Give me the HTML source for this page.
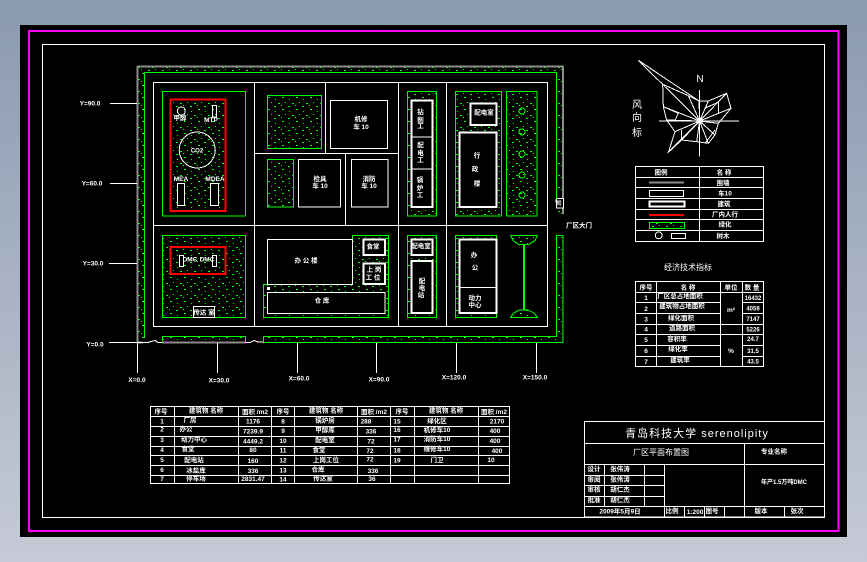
<!DOCTYPE html>
<html><head><meta charset="utf-8"><style>
html,body{margin:0;padding:0;width:867px;height:562px;overflow:hidden;background:linear-gradient(#8a9ab0,#c6cad6)}
svg{display:block;position:absolute;left:0;top:0}
rect,path,circle{shape-rendering:crispEdges}
text{fill:#fff;font-family:"Liberation Sans","Noto Sans CJK SC",sans-serif;font-size:6.5px;font-weight:bold;text-anchor:middle}
.w{fill:none;stroke:#fff;stroke-width:1}
.w2{fill:none;stroke:#fff;stroke-width:1.6}
.g{fill:url(#h);stroke:#0f0;stroke-width:1}
.gn{fill:none;stroke:#0f0;stroke-width:1}
.k{fill:#000;stroke:#fff;stroke-width:1}
.k2{fill:#000;stroke:#fff;stroke-width:1.6}
</style></head><body>
<svg width="867" height="562" viewBox="0 0 867 562" xmlns="http://www.w3.org/2000/svg">
<defs>
<pattern id="h" width="14" height="12" patternUnits="userSpaceOnUse">
<rect x="2" y="1" width="2" height="1" fill="#0f0"/><rect x="9" y="3" width="1" height="1" fill="#0f0"/>
<rect x="5" y="6" width="1" height="1" fill="#0f0"/><rect x="12" y="7" width="2" height="1" fill="#0f0"/>
<rect x="1" y="9" width="1" height="1" fill="#0f0"/><rect x="8" y="10" width="2" height="1" fill="#0f0"/>
</pattern>
</defs>
<rect x="20" y="25" width="827" height="512" fill="#000"/>
<rect x="29" y="30.75" width="809.5" height="500" fill="none" stroke="#f0f" stroke-width="2"/>
<rect x="42.5" y="44.5" width="782" height="473" class="w"/>

<!-- site boundary -->
<path d="M138 67H563V214H556.5V72.5H144.5V342.5H138Z" fill="url(#h)"/>
<path d="M137.5 342.5V66.5H562.8V214" fill="none" stroke="#8c8c8c" stroke-width="2"/>
<path d="M144.5 338V72.5H556.5V198" class="gn"/>
<rect x="162.5" y="336.5" width="83" height="6" class="g"/>
<path d="M162 342.5H245" stroke="#8c8c8c" stroke-width="2"/>
<path d="M263.5 342.5V336.5H556.5V235.5H563V342.5Z" class="g"/>
<path d="M138 342.5H143" stroke="#8c8c8c" stroke-width="2"/>
<path d="M110 342.5H148L151 341.5 155 340.5 158 342.5H162M245 342.5H250L254 340.5 258 342H263" class="w"/>
<rect x="556.5" y="198.5" width="7" height="9.5" class="k"/>
<path d="M556 199V202H559V205" class="w"/>
<rect x="153.5" y="82.5" width="394" height="244" class="w"/>
<path d="M254.5 82V326M398.5 82V326M446.5 82V326M153 225.5H547M254 153.5H398M325.5 82V153M345.5 153V225" class="w"/>

<!-- block A -->
<rect x="162.5" y="91.5" width="83" height="124.5" class="gn"/>
<rect x="170.5" y="99.5" width="55" height="111.5" fill="url(#h)" stroke="#f00" stroke-width="2"/>
<circle cx="181.3" cy="111" r="4" class="w"/>
<rect x="212.5" y="105.5" width="4" height="11.5" class="w"/>
<circle cx="197.2" cy="150" r="18" class="w"/>
<rect x="177.5" y="183.5" width="7" height="22" class="k"/>
<rect x="210.5" y="183.5" width="8" height="22" class="k"/>
<text x="180" y="120">甲醇</text><text x="211" y="122">MTP</text>
<text x="197" y="152.5" style="font-size:6px">CO2</text>
<text x="181" y="181">MEA</text><text x="215" y="181">MDEA</text>

<!-- top middle -->
<rect x="267.5" y="95.5" width="54" height="53" class="g"/>
<rect x="330.5" y="100.5" width="57" height="48" class="w"/>
<text x="361" y="121">机修</text><text x="361" y="129">车 10</text>
<rect x="267.5" y="159.5" width="26" height="47.5" class="g"/>
<rect x="298.5" y="159.5" width="42" height="47.5" class="w"/>
<text x="320" y="181">检具</text><text x="320" y="188">车 10</text>
<rect x="351.5" y="159.5" width="36.5" height="47.5" class="w"/>
<text x="369" y="181">消防</text><text x="369" y="188">车 10</text>

<!-- column 3 -->
<rect x="407.5" y="91.5" width="29" height="124.5" class="g"/>
<rect x="411.5" y="100.5" width="21" height="106.5" class="k2"/>
<path d="M411.5 137H432.5M411.5 169H432.5" class="w"/>
<text x="420.5" y="114">钻</text><text x="420.5" y="122">削</text><text x="420.5" y="128">工</text>
<text x="420.5" y="147">配</text><text x="420.5" y="155">电</text><text x="420.5" y="162">工</text>
<text x="420" y="182">锅</text><text x="420" y="190">炉</text><text x="420" y="197">工</text>

<!-- column 4 -->
<rect x="455.5" y="91.5" width="46" height="124.5" class="g"/>
<rect x="470.5" y="103.5" width="26" height="21.5" class="k2" stroke-width="2"/>
<text x="484" y="114.5">配电室</text>
<rect x="459.5" y="132.5" width="37" height="74.5" class="k2"/>
<text x="477" y="157.5">行</text><text x="475" y="171">政</text><text x="477" y="185.5">楼</text>

<!-- trees -->
<rect x="506.5" y="91.5" width="30.5" height="124.5" class="g"/>
<g class="gn"><circle cx="522" cy="111" r="3"/><circle cx="522" cy="132" r="3"/><circle cx="522" cy="154" r="3"/><circle cx="522" cy="175" r="3"/><circle cx="522" cy="195" r="3"/></g>

<!-- lower left -->
<rect x="162.5" y="235.5" width="83" height="82" class="g"/>
<rect x="170.5" y="247" width="55" height="27" fill="none" stroke="#f00" stroke-width="2"/>
<rect x="179.5" y="255.5" width="4" height="11" class="k"/>
<rect x="212.5" y="255.5" width="4" height="11" class="k"/>
<text x="190" y="261.5">DMC</text><text x="207" y="261.5">DMC</text>
<rect x="193.5" y="306.5" width="21" height="11" class="k"/>
<text x="204" y="314.5">传达 室</text>

<!-- lower middle -->
<path d="M352.5 235.5H388.5V317.5H263.5V284.5H352.5Z" class="g"/>
<rect x="267.5" y="239.5" width="85" height="45" class="k"/>
<text x="306" y="262.5">办 公 楼</text>
<rect x="363.5" y="239.5" width="21.5" height="15.5" class="k2"/>
<text x="373" y="248.5">食堂</text>
<rect x="363.5" y="263.5" width="21.5" height="20.5" class="k2"/>
<text x="374" y="271.5">上 岗</text><text x="373" y="279.5">工 位</text>
<rect x="267.5" y="292.5" width="117.5" height="21" class="k"/>
<text x="322" y="302.5">仓 库</text>
<rect x="267" y="287" width="3" height="3" fill="#fff"/>

<!-- lower col 3 -->
<rect x="407.5" y="235.5" width="29" height="82" class="g"/>
<rect x="411.5" y="239.5" width="21" height="15.5" class="k2"/>
<text x="421" y="248">配电室</text>
<rect x="411.5" y="261" width="21" height="52" class="k2"/>
<text x="422" y="283">配</text><text x="422" y="290">电</text><text x="421" y="297">站</text>
<!-- lower col 4 -->
<rect x="455.5" y="235.5" width="41" height="82" class="g"/>
<rect x="459.5" y="239.5" width="37" height="73.5" class="k2"/>
<path d="M459.5 287.5H496" class="w"/>
<text x="474" y="257">办</text><text x="475" y="269.5">公</text>
<text x="475" y="300">动力</text><text x="475" y="307">中心</text>

<!-- hourglass -->
<path d="M510.5 235.5H537.5L535 240.5 529 244.5H518.5L513 240.5Z" class="g"/>
<rect x="523" y="244" width="2" height="66" fill="#0f0"/>
<path d="M510.5 317.5H537.5L534 313 528 310H519L513 313.5Z" class="g"/>

<!-- grid labels -->
<path d="M110 103.5H137M110 183.5H137M109 263.5H137M109 342.5H138M137.5 342V373M217.5 343V373M297.5 343V373M376.5 343V373M456.5 343V373M536.5 343V373" class="w"/>
<text x="90" y="105.5">Y=90.0</text><text x="92" y="185.5">Y=60.0</text><text x="93" y="265.5">Y=30.0</text><text x="95" y="346.5">Y=0.0</text>
<text x="137" y="382">X=0.0</text><text x="219" y="382.5">X=30.0</text><text x="299" y="380.5">X=60.0</text><text x="379" y="381.5">X=90.0</text><text x="454" y="379.5">X=120.0</text><text x="535" y="379.5">X=150.0</text>
<text x="579" y="227.5">厂区大门</text>
<text x="559" y="205" style="font-size:5px">门</text>

<!-- wind rose -->
<g transform="translate(625 55) scale(.3333)" fill="none" stroke="#fff" stroke-width="3">
<path d="M40 16L113 88 190 122 222 138 250 138 305 115 318 160 280 205 270 240 250 265 215 260 170 255 130 292 150 230 125 195 115 155 113 88M40 16L222 138"/>
<path d="M40 16L224 198M190 122L224 198M222 138L224 198M250 138L224 198M305 115L224 198M318 160L224 198M280 205L224 198M270 240L224 198M250 265L224 198M215 260L224 198M170 255L224 198M130 292L224 198M150 230L224 198M125 195L224 198M115 155L224 198"/>
<path d="M115 155L160 175 150 195M238 160L280 142 280 175M270 225L240 265M170 225L170 255"/>
<path d="M102 198H342M224 105V305" stroke-width="3"/>
<circle cx="224" cy="198" r="9" fill="#fff" stroke="none"/>
</g>
<text x="700" y="82" style="font-size:10px;font-weight:normal">N</text>
<text x="637" y="108" style="font-size:10px;font-weight:normal">风</text><text x="637" y="121" style="font-size:10px;font-weight:normal">向</text><text x="637" y="136" style="font-size:10px;font-weight:normal">标</text>

<!-- legend -->
<rect x="635.5" y="166.5" width="128" height="75" class="w"/>
<path d="M699.5 166V241M635 177.5H763M635 187.5H763M635 198.5H763M635 209.5H763M635 219.5H763M635 230.5H763" class="w"/>
<text x="661" y="174.5">图例</text><text x="724" y="174.5">名 称</text>
<text x="723" y="185">围墙</text><text x="725" y="195.5">车10</text><text x="724" y="206">建筑</text><text x="725" y="216.5">厂内人行</text><text x="725" y="226.5">绿化</text><text x="723" y="238">树木</text>
<path d="M649 182.7H684" stroke="#8c8c8c" stroke-width="2"/>
<rect x="649.5" y="190.5" width="34" height="6" class="w"/>
<rect x="649.5" y="201.5" width="35" height="5" class="k2"/>
<path d="M649 215H684" stroke="#f00" stroke-width="2"/>
<rect x="649.5" y="222.5" width="35" height="6" class="g"/>
<circle cx="658.7" cy="235.3" r="3.4" class="w"/>
<rect x="671.5" y="233.5" width="14" height="5" class="w"/>

<!-- tech table -->
<text x="688" y="270" style="font-size:8px;font-weight:normal">经济技术指标</text>
<rect x="635.5" y="281.5" width="128" height="85" class="w"/>
<path d="M656.5 281V366M720.5 281V366M742.5 281V366M635 292.5H763M635 302.5H720M742 302.5H763M635 313.5H720M742 313.5H763M635 324.5H763M635 334.5H763M635 345.5H720M742 345.5H763M635 356.5H720M742 356.5H763" class="w"/>
<text x="646" y="289.5">序号</text><text x="688" y="289.5">名 称</text><text x="731" y="289.5">单位</text><text x="752" y="289.5">数 量</text>
<text x="646" y="300">1</text><text x="680" y="298">厂区总占地面积</text><text x="753" y="300" style="font-size:6px">16432</text>
<text x="646" y="311">2</text><text x="682" y="308">建筑物占地面积</text><text x="753" y="310.5" style="font-size:6px">4059</text>
<text x="646" y="321.5">3</text><text x="681" y="320">绿化面积</text><text x="753" y="321" style="font-size:6px">7147</text>
<text x="646" y="331.5">4</text><text x="682" y="330">道路面积</text><text x="753" y="331.5" style="font-size:6px">5226</text>
<text x="646" y="342">5</text><text x="677" y="341">容积率</text><text x="753" y="341" style="font-size:6px">24.7</text>
<text x="646" y="353">6</text><text x="678" y="351">绿化率</text><text x="753" y="353" style="font-size:6px">31.5</text>
<text x="646" y="364">7</text><text x="680" y="362">建筑率</text><text x="753" y="363.5" style="font-size:6px">43.5</text>
<text x="731" y="312">m²</text><text x="731" y="353">%</text>

<!-- building table -->
<rect x="150.5" y="406.5" width="359" height="77" class="w"/>
<path d="M174.5 406V483M238.5 406V483M271.5 406V483M294.5 406V483M357.5 406V483M390.5 406V483M414.5 406V483M478.5 406V483M150 416.5H509M150 426.5H509M150 436.5H509M150 446.5H509M150 455.5H509M150 465.5H509M150 475.5H509" class="w"/>
<g>
<text x="161" y="413.5">序号</text><text x="206" y="412.5">建筑物 名称</text><text x="255" y="414" style="font-size:6.5px">面积 /m2</text>
<text x="283" y="413.5">序号</text><text x="326" y="412.5">建筑物 名称</text><text x="374" y="414">面积 /m2</text>
<text x="402" y="413.5">序号</text><text x="446" y="412.5">建筑物 名称</text><text x="494" y="414">面积 /m2</text>
<text x="162" y="423.5">1</text><text x="190" y="422">厂房</text><text x="253" y="423.5">1176</text><text x="283" y="423.5">8</text><text x="325" y="422.5">锅炉房</text><text x="366" y="423.5">288</text><text x="397" y="423.5">15</text><text x="437" y="423">绿化区</text><text x="497" y="423.5">2170</text>
<text x="162" y="431.5">2</text><text x="186" y="431">办公</text><text x="253" y="433.5">7239.9</text><text x="283" y="433">9</text><text x="325" y="432">甲醇库</text><text x="371" y="433.5">336</text><text x="397" y="432">16</text><text x="437" y="432">机修车10</text><text x="495" y="433">400</text>
<text x="162" y="442">3</text><text x="194" y="441.5">动力中心</text><text x="253" y="443.5">4449.2</text><text x="283" y="443">10</text><text x="325" y="442">配电室</text><text x="371" y="443.5">72</text><text x="397" y="441.5">17</text><text x="437" y="441">消防车10</text><text x="495" y="443">400</text>
<text x="162" y="452">4</text><text x="188" y="451">食堂</text><text x="253" y="452">80</text><text x="283" y="452.5">11</text><text x="319" y="452">食堂</text><text x="370" y="453">72</text><text x="397" y="452.5">18</text><text x="437" y="451">维修车10</text><text x="497" y="453">400</text>
<text x="162" y="462">5</text><text x="194" y="462">配电站</text><text x="253" y="463">160</text><text x="283" y="462.5">12</text><text x="326" y="462">上岗工位</text><text x="370" y="461.5">72</text><text x="397" y="462.5">19</text><text x="437" y="462">门卫</text><text x="491" y="462">10</text>
<text x="162" y="472">6</text><text x="196" y="472.5">冰盐库</text><text x="253" y="473">336</text><text x="283" y="472.5">13</text><text x="318" y="471.5">仓库</text><text x="373" y="473">336</text>
<text x="162" y="481">7</text><text x="196" y="480.5">停车场</text><text x="253" y="481">2831.47</text><text x="283" y="481.5">14</text><text x="323" y="480.5">传达室</text><text x="372" y="481">36</text>
</g>

<!-- title block -->
<rect x="584.5" y="421.5" width="240" height="95.5" class="w"/>
<path d="M584 443.5H825M584 464.5H825M584 506.5H825M744.5 443V517M584 475.5H665M584 485.5H665M584 496.5H665M604.5 464V506M644.5 464V506M664.5 464V517M684.5 506V517M704.5 506V517M724.5 506V517M784.5 506V517" class="w"/>
<text x="697" y="437" style="font-size:11px;letter-spacing:1px;font-weight:normal">青岛科技大学 serenolipity</text>
<text x="661" y="455" style="font-size:8px;font-weight:normal">厂区平面布置图</text>
<text x="774" y="453.5">专业名称</text>
<text x="594" y="471">设计</text><text x="620" y="471">张伟涛</text>
<text x="594" y="481.5">审阅</text><text x="620" y="481.5">张伟涛</text>
<text x="594" y="491.5">审核</text><text x="620" y="491.5">胡仁杰</text>
<text x="594" y="502">批准</text><text x="620" y="502">胡仁杰</text>
<text x="784" y="484" style="font-size:6px">年产1.5万吨DMC</text>
<text x="620" y="513.5">2009年5月9日</text>
<text x="672" y="513">比例</text><text x="695" y="514">1:200</text><text x="712" y="513">图号</text>
<text x="761" y="513">版本</text><text x="797" y="513">张次</text>
</svg>
</body></html>
